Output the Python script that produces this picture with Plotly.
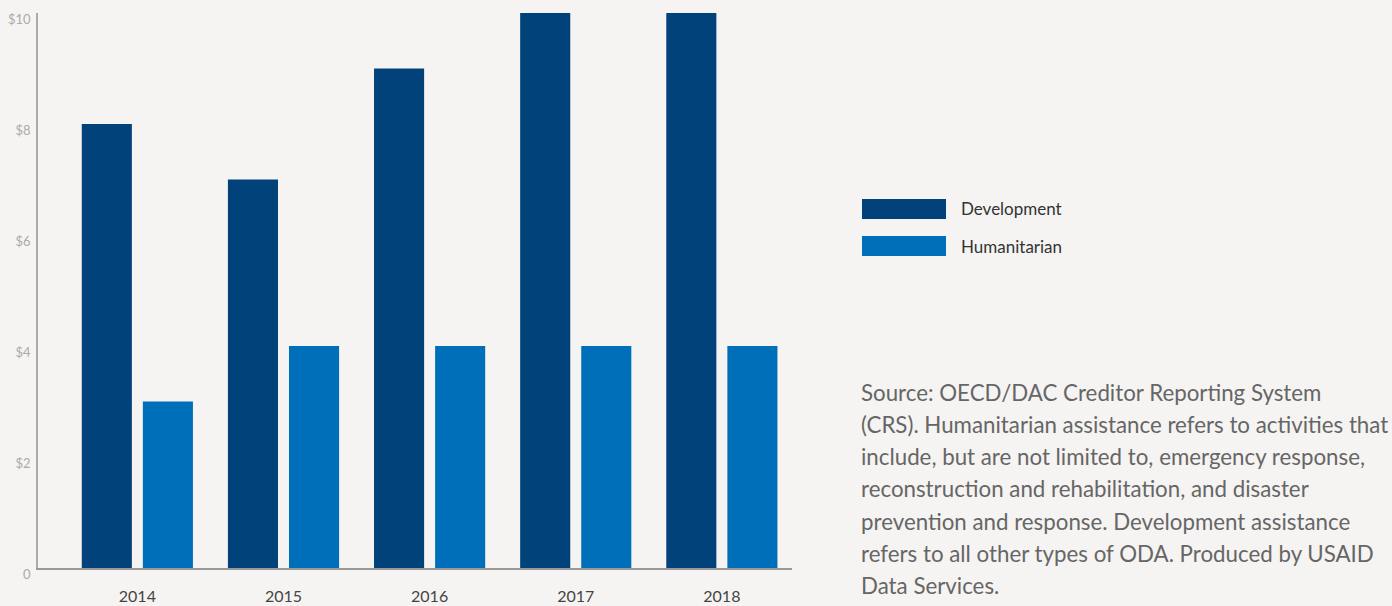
import plotly.graph_objects as go

years = ["2014", "2015", "2016", "2017", "2018"]
development = [8, 7, 9, 10, 10]
humanitarian = [3, 4, 4, 4, 4]
ytick_vals = [0, 2, 4, 6, 8, 10]
ytick_text = ["0", "$2", "$4", "$6", "$8", "$10"]
source_lines = [
    "Source: OECD/DAC Creditor Reporting System",
    "(CRS). Humanitarian assistance refers to activities that",
    "include, but are not limited to, emergency response,",
    "reconstruction and rehabilitation, and disaster",
    "prevention and response. Development assistance",
    "refers to all other types of ODA. Produced by USAID",
    "Data Services.",
]

DEV_C = "#004279"
HUM_C = "#006fb9"
BG = "#f5f4f2"
FONT = "Lato"

fig = go.Figure()
fig.add_trace(go.Bar(x=years, y=development, name="Development", marker_color=DEV_C, marker_line_width=0, showlegend=False))
fig.add_trace(go.Bar(x=years, y=humanitarian, name="Humanitarian", marker_color=HUM_C, marker_line_width=0, showlegend=False))

L, R, T, B = 38, 600, 13, 38
W, H = 1392, 606
pw = W - L - R
ph = H - T - B

def px_x(p):
    return (p - L) / pw

def px_y(p):
    return (H - B - p) / ph

shapes = []
annotations = []
legend_items = [("Development", DEV_C, 199), ("Humanitarian", HUM_C, 236)]
for name, col, top in legend_items:
    shapes.append(dict(type="rect", xref="paper", yref="paper",
                       x0=px_x(862), x1=px_x(946), y0=px_y(top + 20), y1=px_y(top),
                       fillcolor=col, line_width=0))
    annotations.append(dict(xref="paper", yref="paper", x=px_x(959), y=px_y(top + 10),
                            text=name, showarrow=False, xanchor="left", yanchor="middle",
                            font=dict(family=FONT, size=17, color="#333333")))

for i, line in enumerate(source_lines):
    annotations.append(dict(xref="paper", yref="paper", x=px_x(859), y=px_y(392 + i * 32.3),
                            text=line, showarrow=False, xanchor="left", yanchor="middle",
                            font=dict(family=FONT, size=22.3, color="#666666")))

fig.update_layout(
    width=W, height=H,
    margin=dict(l=L, r=R, t=T, b=B, pad=0, autoexpand=False),
    paper_bgcolor=BG, plot_bgcolor=BG,
    barmode="group", bargap=0.164, bargroupgap=0.18,
    font=dict(family=FONT),
    shapes=shapes, annotations=annotations,
    showlegend=False,
)
fig.update_xaxes(
    type="category", range=[-0.68, 4.48], automargin=False,
    showgrid=False, zeroline=False,
    showline=True, linecolor="#999999", linewidth=2,
    ticks="", ticklabelstandoff=13,
    tickfont=dict(family=FONT, size=16, color="#444444"),
)
fig.update_yaxes(
    range=[0, 10], tickvals=ytick_vals, ticktext=ytick_text, automargin=False,
    showgrid=False, zeroline=False,
    showline=True, linecolor="#aaaaaa", linewidth=1.5,
    ticks="", ticklabelstandoff=3, ticklabelshift=6, ticklabeloverflow="allow",
    tickfont=dict(family=FONT, size=13, color="#aaaaaa"),
)

fig.write_html("out.html")
